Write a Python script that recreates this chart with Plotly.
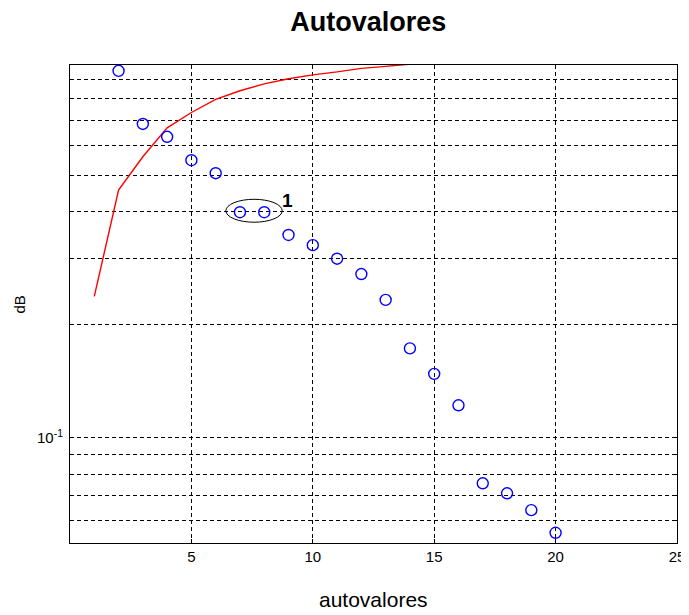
import numpy as np
import plotly.graph_objects as go

# autovalores (círculos azuis)
idx = list(range(2, 21))
autoval = [0.950, 0.686, 0.634, 0.549, 0.507, 0.399, 0.399, 0.347, 0.326, 0.300,
           0.273, 0.233, 0.173, 0.148, 0.122, 0.0756, 0.0711, 0.0641, 0.0558]

# curva acumulada (linha vermelha)
idx_acum = list(range(1, 15))
acum = [0.238, 0.457, 0.561, 0.670, 0.736, 0.798, 0.841, 0.877, 0.905, 0.927,
        0.944, 0.965, 0.977, 0.990]

ygrid = [0.06, 0.07, 0.08, 0.09, 0.1, 0.2, 0.3, 0.4, 0.5, 0.6, 0.7, 0.8, 0.9]
ytext = ['', '', '', '', '10<sup>-1</sup>', '', '', '', '', '', '', '', '']

fig = go.Figure()
fig.add_trace(go.Scatter(x=idx_acum, y=acum, mode='lines',
                         line=dict(color='red', width=1.4)))
fig.add_trace(go.Scatter(x=idx, y=autoval, mode='markers',
                         marker=dict(symbol='circle-open', size=11, color='blue',
                                     line=dict(width=1.4, color='blue'))))

# destaque do par 7-8
fig.add_shape(type='circle', xref='x', yref='y', x0=6.42, x1=8.74, y0=0.3753, y1=0.432,
              line=dict(color='black', width=1))
fig.add_annotation(x=8.95, y=np.log10(0.43), text='<b>1</b>', showarrow=False,
                   font=dict(size=19, color='black'))

# rótulos dos eixos
fig.add_annotation(xref='paper', yref='paper', x=0.5, y=-0.119, text='autovalores',
                   showarrow=False, font=dict(size=21), xanchor='center', yanchor='middle')
fig.add_annotation(xref='paper', yref='paper', x=-0.083, y=0.498, text='dB', textangle=-90,
                   showarrow=False, font=dict(size=15), xanchor='center', yanchor='middle')

font = 'Liberation Sans, Arial, sans-serif'
fig.update_layout(
    width=681, height=607,
    margin=dict(l=62, r=12, t=57, b=72),
    paper_bgcolor='white', plot_bgcolor='white',
    showlegend=False,
    font=dict(family=font, color='black', size=15),
    title=dict(text='<b>Autovalores</b>', x=0.529, xanchor='center',
               y=0.977, yanchor='middle', font=dict(size=27, family=font)),
)
fig.update_xaxes(range=[0, 25], tickvals=[5, 10, 15, 20, 25], automargin=False,
                 showline=True, linecolor='black', linewidth=1, mirror='ticks',
                 ticks='inside', ticklen=4, tickcolor='black',
                 showgrid=True, gridcolor='black', griddash='4px,3px', gridwidth=1,
                 zeroline=False)
fig.update_yaxes(type='log', range=[np.log10(0.0524), np.log10(0.985)],
                 tickvals=ygrid, ticktext=ytext, automargin=False, ticklabelstandoff=3,
                 showline=True, linecolor='black', linewidth=1, mirror='ticks',
                 ticks='inside', ticklen=4, tickcolor='black',
                 showgrid=True, gridcolor='black', griddash='4px,3px', gridwidth=1,
                 zeroline=False)

fig.write_html('out.html')
